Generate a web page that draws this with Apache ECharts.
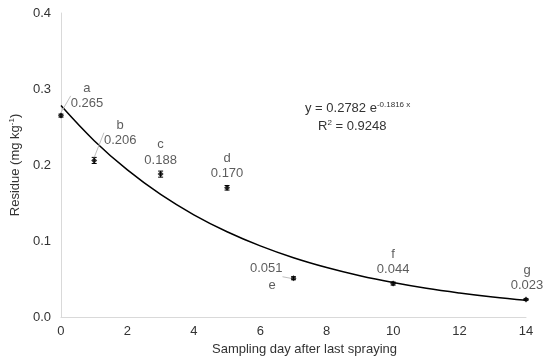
<!DOCTYPE html>
<html>
<head>
<meta charset="utf-8">
<script src="https://cdn.jsdelivr.net/npm/echarts@6/dist/echarts.min.js"></script>
<style>html,body{margin:0;padding:0;background:#fff;}#c{width:550px;height:363px;}</style>
</head>
<body>
<div id="c"></div>
<script>
// Data
var days = [0, 1, 3, 5, 7, 10, 14];
var residues = [0.265, 0.206, 0.188, 0.170, 0.051, 0.044, 0.023];
var errors = [0.002, 0.004, 0.004, 0.003, 0.002, 0.002, 0.001];
var letters = ['a', 'b', 'c', 'd', 'e', 'f', 'g'];
// Exponential trendline (y = 0.2782 e^-0.1816x)
var trendDays = [0, 1, 2, 3, 4, 5, 6, 7, 8, 9, 10, 11, 12, 13, 14];
var trendValues = [0.2782, 0.2320, 0.1935, 0.1613, 0.1345, 0.1122, 0.0936, 0.0780, 0.0651, 0.0543, 0.0453, 0.0377, 0.0315, 0.0262, 0.0219];
var xTicks = [0, 2, 4, 6, 8, 10, 12, 14];
var yTicks = ['0.0', '0.1', '0.2', '0.3', '0.4'];

// label placement (style only)
var labelShift = [[26, 2], [26, -6], [0, 0], [0, 0], [0, -1], [0, 0], [1, 0]];
var withLeader = [true, true, false, false, true, false, false];

var font = 'Liberation Sans, Arial, sans-serif';
var txt = '#333333';

var chart = echarts.init(document.getElementById('c'));

var scatterData = days.map(function (d, i) {
  var item = { value: [d, residues[i]] };
  var v = residues[i].toFixed(3);
  if (i === 4) {
    item.label = { position: 'left', distance: 8, formatter: '{v|' + v + '}\n{e|' + letters[i] + '}' };
  } else {
    item.label = { formatter: '{l|' + letters[i] + '}\n{v|' + v + '}' };
  }
  if (withLeader[i]) {
    item.labelLine = { show: true, lineStyle: { color: '#bfbfbf', width: 1 } };
  }
  return item;
});

var option = {
  backgroundColor: '#ffffff',
  animation: false,
  textStyle: { fontFamily: font },
  grid: { left: 58, right: 24, top: 13, bottom: 46, containLabel: false },
  xAxis: {
    type: 'value', min: 0, max: 14, interval: 2,
    name: 'Sampling day after last spraying',
    nameLocation: 'middle', nameGap: 26,
    nameTextStyle: { fontSize: 13, color: txt, fontFamily: font, padding: [0, 0, 0, 22] },
    axisLine: { show: true, lineStyle: { color: '#d9d9d9', width: 1 } },
    axisTick: { show: false },
    splitLine: { show: false },
    axisLabel: { fontSize: 13, color: txt, fontFamily: font, margin: 8,
      formatter: function (v) { return xTicks.indexOf(v) >= 0 ? String(v) : ''; } }
  },
  yAxis: {
    type: 'value', min: 0, max: 0.4, interval: 0.1,
    name: '{n|Residue (mg kg}{s|-1}{n|)}',
    nameLocation: 'middle', nameGap: 37,
    nameTextStyle: { fontFamily: font, color: txt,
      rich: { n: { fontSize: 13, color: txt, fontFamily: font, lineHeight: 15 },
              s: { fontSize: 8, color: txt, fontFamily: font, verticalAlign: 'top', lineHeight: 15 } } },
    axisLine: { show: true, lineStyle: { color: '#d9d9d9', width: 1 } },
    axisTick: { show: false },
    splitLine: { show: false },
    axisLabel: { fontSize: 13, color: txt, fontFamily: font, margin: 10,
      formatter: function (v) { return yTicks[Math.round(v * 10)]; } }
  },
  series: [
    {
      type: 'line', data: trendDays.map(function (d, i) { return [d, trendValues[i]]; }),
      smooth: 0.4, showSymbol: false, silent: true,
      lineStyle: { color: '#000000', width: 1.5 }, z: 1
    },
    {
      type: 'custom', z: 2,
      data: days.map(function (d, i) { return [d, residues[i] - errors[i], residues[i] + errors[i]]; }),
      renderItem: function (params, api) {
        var lo = api.coord([api.value(0), api.value(1)]);
        var hi = api.coord([api.value(0), api.value(2)]);
        var w = 2.5;
        var st = { stroke: '#000000', lineWidth: 1 };
        return { type: 'group', children: [
          { type: 'line', shape: { x1: lo[0], y1: lo[1], x2: hi[0], y2: hi[1] }, style: st },
          { type: 'line', shape: { x1: lo[0] - w, y1: lo[1], x2: lo[0] + w, y2: lo[1] }, style: st },
          { type: 'line', shape: { x1: hi[0] - w, y1: hi[1], x2: hi[0] + w, y2: hi[1] }, style: st }
        ] };
      }
    },
    {
      type: 'scatter', z: 3,
      symbol: 'diamond', symbolSize: 6,
      itemStyle: { color: '#000000' },
      data: scatterData,
      label: {
        show: true, position: 'top', distance: 3, color: txt, fontFamily: font,
        rich: { l: { fontSize: 13, color: txt, fontFamily: font, lineHeight: 15, align: 'center' },
                v: { fontSize: 13, color: txt, fontFamily: font, lineHeight: 16, align: 'center' },
                e: { fontSize: 13, color: txt, fontFamily: font, lineHeight: 18, align: 'center', padding: [0, 0, 0, 12] } }
      },
      labelLayout: function (params) {
        var s = labelShift[params.dataIndex];
        return { dx: s[0], dy: s[1] };
      }
    }
  ],
  graphic: [
    { type: 'text', left: 305, top: 101, style: {
      rich: { m: { fontSize: 13, fontFamily: font, fill: txt, lineHeight: 15 },
              s: { fontSize: 8, fontFamily: font, fill: txt, verticalAlign: 'top', lineHeight: 15 } },
      text: '{m|y = 0.2782 e}{s|-0.1816 x}' } },
    { type: 'text', left: 318, top: 119, style: {
      rich: { m: { fontSize: 13, fontFamily: font, fill: txt, lineHeight: 15 },
              s: { fontSize: 8, fontFamily: font, fill: txt, verticalAlign: 'top', lineHeight: 15 } },
      text: '{m|R}{s|2}{m| = 0.9248}' } }
  ]
};
chart.setOption(option);
</script>
</body>
</html>
